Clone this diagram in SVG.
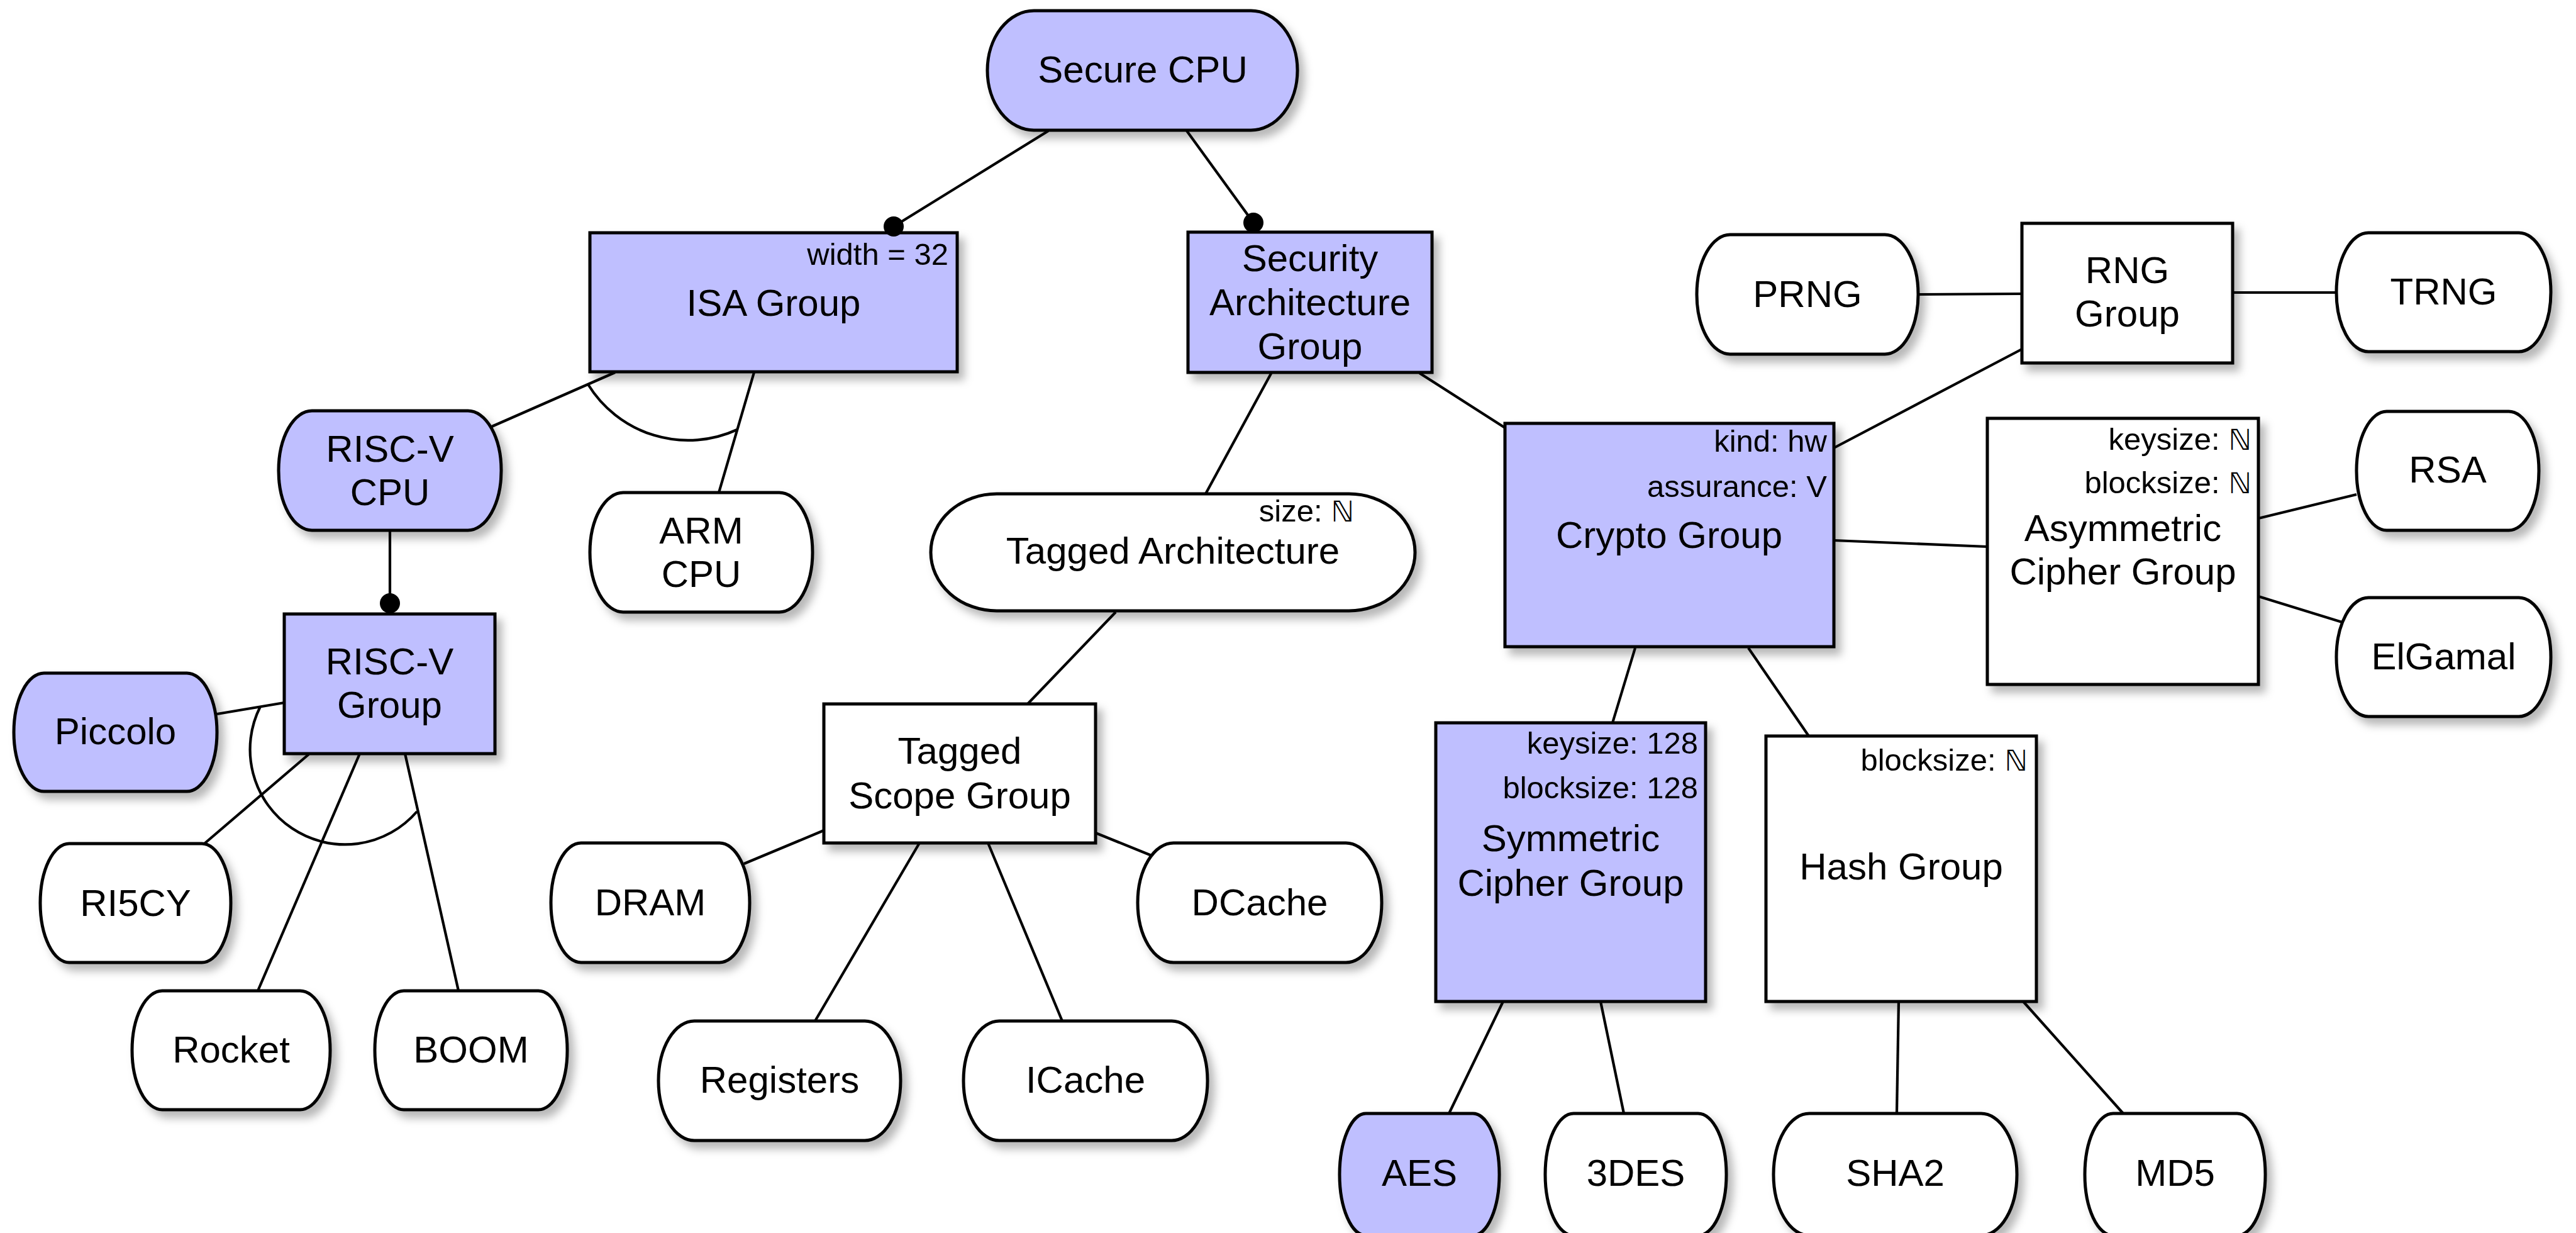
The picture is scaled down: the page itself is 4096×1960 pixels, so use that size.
<svg xmlns="http://www.w3.org/2000/svg" width="4096" height="1960" viewBox="0 0 4096 1960">
<style>
.n{stroke:#000;stroke-width:5;filter:url(#sh)}
.p{fill:#BFBFFF}
.w{fill:#fff}
.c line,.c path{stroke:#000;stroke-width:4.2;fill:none}
.c circle{fill:#000}
text{font-family:"Liberation Sans",Arial,sans-serif;fill:#000}
.t{font-size:60px;text-anchor:middle}
.a{font-size:49px;text-anchor:end}
.nn{font-family:"DejaVu Sans",sans-serif;font-size:46px}
</style>
<defs>
<filter id="sh" x="-20%" y="-20%" width="150%" height="150%">
<feDropShadow dx="9" dy="11" stdDeviation="7" flood-color="#000" flood-opacity="0.28"/>
</filter>
</defs>
<rect width="4096" height="1960" fill="#fff"/>
<g id="connectors" class="c">
<line x1="1667" y1="208" x2="1421" y2="360"/>
<line x1="1887" y1="208" x2="1993" y2="354"/>
<line x1="978" y1="592" x2="782" y2="678"/>
<line x1="1199" y1="592" x2="1143" y2="783"/>
<path d="M935 611 A187 187 0 0 0 1172 683"/>
<line x1="620" y1="843" x2="620" y2="959"/>
<line x1="452" y1="1117" x2="345" y2="1135"/>
<line x1="491" y1="1199" x2="325" y2="1341"/>
<line x1="572" y1="1198" x2="410" y2="1575"/>
<line x1="644" y1="1198" x2="729" y2="1575"/>
<path d="M414 1123 A151 151 0 0 0 663 1290"/>
<line x1="2022" y1="592" x2="1917" y2="785"/>
<line x1="2257" y1="593" x2="2393" y2="680"/>
<line x1="1774" y1="973" x2="1634" y2="1119"/>
<line x1="1310" y1="1320" x2="1183" y2="1373"/>
<line x1="1742" y1="1324" x2="1831" y2="1360"/>
<line x1="1462" y1="1340" x2="1296" y2="1623"/>
<line x1="1571" y1="1340" x2="1689" y2="1623"/>
<line x1="2916" y1="712" x2="3215" y2="555"/>
<line x1="3050" y1="468" x2="3215" y2="467"/>
<line x1="3550" y1="465" x2="3715" y2="465"/>
<line x1="2916" y1="859" x2="3160" y2="869"/>
<line x1="3591" y1="824" x2="3747" y2="786"/>
<line x1="3591" y1="948" x2="3724" y2="989"/>
<line x1="2600" y1="1030" x2="2564" y2="1149"/>
<line x1="2780" y1="1030" x2="2876" y2="1170"/>
<line x1="2390" y1="1592" x2="2304" y2="1770"/>
<line x1="2545" y1="1592" x2="2582" y2="1770"/>
<line x1="3019" y1="1592" x2="3016" y2="1770"/>
<line x1="3217" y1="1592" x2="3376" y2="1770"/>
</g>
<g id="secure-cpu"><rect class="n p" x="1570" y="17" width="493" height="190" rx="74" ry="95"/><text class="t" x="1817" y="131">Secure CPU</text></g>
<g id="isa-group"><rect class="n p" x="938" y="370" width="584" height="221"/><text class="a" x="1508" y="421">width = 32</text><text class="t" x="1230" y="502">ISA Group</text></g>
<g id="security-architecture-group"><rect class="n p" x="1889" y="369" width="388" height="223"/><text class="t" x="2083" y="431">Security</text><text class="t" x="2083" y="501">Architecture</text><text class="t" x="2083" y="571">Group</text></g>
<g id="riscv-cpu"><rect class="n p" x="443" y="653" width="354" height="190" rx="53" ry="95"/><text class="t" x="620" y="734">RISC-V</text><text class="t" x="620" y="803">CPU</text></g>
<g id="arm-cpu"><rect class="n w" x="938" y="783" width="354" height="190" rx="53" ry="95"/><text class="t" x="1115" y="864">ARM</text><text class="t" x="1115" y="933">CPU</text></g>
<g id="riscv-group"><rect class="n p" x="452" y="976" width="335" height="222"/><text class="t" x="619.5" y="1072">RISC-V</text><text class="t" x="619.5" y="1141">Group</text></g>
<g id="piccolo"><rect class="n p" x="22" y="1070" width="323" height="188" rx="48" ry="94"/><text class="t" x="183.5" y="1183">Piccolo</text></g>
<g id="ri5cy"><rect class="n w" x="64" y="1341" width="303" height="189" rx="46" ry="94.5"/><text class="t" x="215.5" y="1456">RI5CY</text></g>
<g id="rocket"><rect class="n w" x="210" y="1575" width="315" height="189" rx="48" ry="94.5"/><text class="t" x="367.5" y="1689">Rocket</text></g>
<g id="boom"><rect class="n w" x="596" y="1575" width="306" height="189" rx="46" ry="94.5"/><text class="t" x="749" y="1689">BOOM</text></g>
<g id="tagged-architecture"><rect class="n w" x="1480" y="785" width="770" height="186" rx="105" ry="93"/><text class="a" x="2153" y="829">size: <tspan class="nn">ℕ</tspan></text><text class="t" x="1865" y="896">Tagged Architecture</text></g>
<g id="tagged-scope-group"><rect class="n w" x="1310" y="1119" width="432" height="221"/><text class="t" x="1526" y="1214">Tagged</text><text class="t" x="1526" y="1285">Scope Group</text></g>
<g id="dram"><rect class="n w" x="876" y="1340" width="316" height="190" rx="48" ry="95"/><text class="t" x="1034" y="1455">DRAM</text></g>
<g id="dcache"><rect class="n w" x="1809" y="1340" width="388" height="190" rx="57" ry="95"/><text class="t" x="2003" y="1455">DCache</text></g>
<g id="registers"><rect class="n w" x="1047" y="1623" width="385" height="190" rx="57" ry="95"/><text class="t" x="1239.5" y="1737">Registers</text></g>
<g id="icache"><rect class="n w" x="1532" y="1623" width="388" height="190" rx="57" ry="95"/><text class="t" x="1726" y="1737">ICache</text></g>
<g id="crypto-group"><rect class="n p" x="2393" y="673" width="523" height="355"/><text class="a" x="2905" y="718">kind: hw</text><text class="a" x="2905" y="790">assurance: V</text><text class="t" x="2654" y="871">Crypto Group</text></g>
<g id="rng-group"><rect class="n w" x="3215" y="355" width="335" height="222"/><text class="t" x="3382.5" y="450">RNG</text><text class="t" x="3382.5" y="519">Group</text></g>
<g id="prng"><rect class="n w" x="2698" y="373" width="352" height="190" rx="53" ry="95"/><text class="t" x="2874" y="488">PRNG</text></g>
<g id="trng"><rect class="n w" x="3715" y="370" width="341" height="189" rx="51" ry="94.5"/><text class="t" x="3885.5" y="484">TRNG</text></g>
<g id="asymmetric-cipher-group"><rect class="n w" x="3160" y="665" width="431" height="423"/><text class="a" x="3580" y="715">keysize: <tspan class="nn">ℕ</tspan></text><text class="a" x="3580" y="784">blocksize: <tspan class="nn">ℕ</tspan></text><text class="t" x="3375.5" y="860">Asymmetric</text><text class="t" x="3375.5" y="929">Cipher Group</text></g>
<g id="rsa"><rect class="n w" x="3747" y="654" width="290" height="189" rx="48" ry="94.5"/><text class="t" x="3892" y="767">RSA</text></g>
<g id="elgamal"><rect class="n w" x="3715" y="950" width="341" height="189" rx="51" ry="94.5"/><text class="t" x="3885.5" y="1064">ElGamal</text></g>
<g id="symmetric-cipher-group"><rect class="n p" x="2283" y="1149" width="429" height="443"/><text class="a" x="2700" y="1198">keysize: 128</text><text class="a" x="2700" y="1269">blocksize: 128</text><text class="t" x="2497.5" y="1353">Symmetric</text><text class="t" x="2497.5" y="1424">Cipher Group</text></g>
<g id="hash-group"><rect class="n w" x="2808" y="1170" width="430" height="422"/><text class="a" x="3224" y="1225">blocksize: <tspan class="nn">ℕ</tspan></text><text class="t" x="3023" y="1398">Hash Group</text></g>
<g id="aes"><rect class="n p" x="2130" y="1770" width="254" height="194" rx="42" ry="97"/><text class="t" x="2257" y="1885">AES</text></g>
<g id="3des"><rect class="n w" x="2457" y="1770" width="288" height="194" rx="45" ry="97"/><text class="t" x="2601" y="1885">3DES</text></g>
<g id="sha2"><rect class="n w" x="2820" y="1770" width="387" height="194" rx="57" ry="97"/><text class="t" x="3013.5" y="1885">SHA2</text></g>
<g id="md5"><rect class="n w" x="3315" y="1770" width="287" height="194" rx="45" ry="97"/><text class="t" x="3458.5" y="1885">MD5</text></g>
<g id="dots" class="c">
<circle cx="1421" cy="360" r="16"/>
<circle cx="1993" cy="354" r="16"/>
<circle cx="620" cy="959" r="16"/>
</g>
</svg>
